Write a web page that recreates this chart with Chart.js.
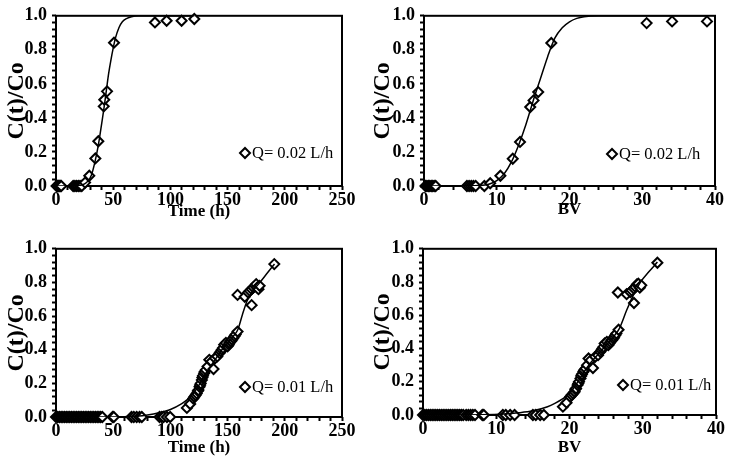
<!DOCTYPE html>
<html>
<head>
<meta charset="utf-8">
<script src="https://cdn.jsdelivr.net/npm/chart.js@4.4.1/dist/chart.umd.min.js"></script>
<style>
  html, body { margin: 0; padding: 0; background: #fff; }
  #wrap { position: relative; width: 733px; height: 466px; }
  canvas { position: absolute; }
</style>
</head>
<body>
<div id="wrap">
  <canvas id="c1" width="366" height="233" style="left:0;top:0"></canvas>
  <canvas id="c2" width="367" height="233" style="left:366px;top:0"></canvas>
  <canvas id="c3" width="366" height="233" style="left:0;top:233px"></canvas>
  <canvas id="c4" width="367" height="233" style="left:366px;top:233px"></canvas>
</div>
<script>
// ================= DATA =================
// Q = 0.02 L/h vs time
const timeA = [0.5, 1.2, 1.8, 2.5, 3.2, 3.9, 4.6, 15, 16.5, 18, 19.5, 21, 22.5, 25.4,
               29.1, 34.4, 37, 41.7, 42.2, 44.6, 50.7, 86.5, 96.7, 109.8, 120.9];
const concTimeA = [0, 0, 0, 0, 0, 0, 0, 0, 0, 0, 0, 0, 0, 0.02,
                   0.06, 0.162, 0.263, 0.468, 0.507, 0.556, 0.842, 0.961, 0.971, 0.971, 0.981];
const fitTimeA = [0, 20, 25, 28, 31, 34, 37, 40, 42, 44, 46, 48, 50, 52, 55, 58, 62, 66, 72, 121];
const fitTimeValsA = [0, 0.003, 0.013, 0.03, 0.065, 0.14, 0.24, 0.37, 0.46, 0.56, 0.66, 0.74,
                      0.81, 0.87, 0.93, 0.965, 0.985, 0.995, 1, 1];

// Q = 0.02 L/h vs BV
const bvA = [0.2, 0.4, 0.6, 0.8, 1.0, 1.2, 1.4, 1.6, 5.9, 6.2, 6.5, 6.8, 7.1,
             8.3, 9.1, 10.5, 12.2, 13.2, 14.6, 15.06, 15.7, 17.5, 30.6, 34.1, 38.9];
const concBvA = [0, 0, 0, 0, 0, 0, 0, 0, 0, 0, 0, 0, 0,
                 0, 0.016, 0.06, 0.16, 0.259, 0.464, 0.503, 0.552, 0.84, 0.957, 0.967, 0.967];
const fitBvA = [0, 7, 8, 9, 10, 11, 12, 13, 14, 15, 16, 17, 18, 19, 20, 21, 22, 24, 39];
const fitBvValsA = [0, 0.001, 0.004, 0.012, 0.032, 0.07, 0.14, 0.24, 0.36, 0.5, 0.63, 0.76,
                    0.87, 0.93, 0.965, 0.985, 0.995, 1, 1];

// Q = 0.01 L/h vs time
const timeB = [0, 1.5, 3, 4.5, 6, 7.5, 9, 10.5, 12, 13.5, 15, 16.5, 18, 19.5, 21, 22.5, 24, 25.5,
               27, 28.5, 30, 31.5, 33, 34.5, 36, 37.5, 39, 40.5, 49.5, 50.5, 66, 68, 70.5, 73, 75,
               90.5, 92.5, 94, 97, 99.8,
               114.4, 117.3, 120, 121, 122, 123, 124, 124.5, 125.5, 126, 126.5, 127.5, 128, 128.5,
               129.5, 130, 131, 132.5, 134, 136, 137.7, 139, 141, 143, 144, 145, 146, 147, 148.5,
               150, 151, 151.5, 152.5, 153, 154, 155, 156, 157, 158.7,
               158.7, 165, 168, 169.5, 171, 171, 172.5, 174, 175, 176, 177, 178, 190.8];
const concTimeB = [0, 0, 0, 0, 0, 0, 0, 0, 0, 0, 0, 0, 0, 0, 0, 0, 0, 0,
                   0, 0, 0, 0, 0, 0, 0, 0, 0, 0, 0, 0, 0, 0, 0, 0, 0,
                   0, 0, 0, 0, 0,
                   0.054, 0.077, 0.11, 0.12, 0.13, 0.14, 0.155, 0.16, 0.18, 0.19, 0.2, 0.22, 0.235, 0.245,
                   0.26, 0.27, 0.28, 0.3, 0.34, 0.33, 0.285, 0.35, 0.36, 0.38, 0.39, 0.4, 0.41, 0.43, 0.44,
                   0.42, 0.43, 0.44, 0.45, 0.45, 0.46, 0.47, 0.48, 0.49, 0.508,
                   0.726, 0.715, 0.74, 0.75, 0.665, 0.76, 0.77, 0.78, 0.79, 0.77, 0.76, 0.78, 0.909];
const fitTimeB = [0, 50, 60, 70, 80, 90, 100, 110, 115, 120, 125, 130, 135, 140, 145, 150, 155,
                  159, 163, 167, 172, 177, 184, 191];
const fitTimeValsB = [0, 0, 0.002, 0.005, 0.012, 0.025, 0.045, 0.08, 0.105, 0.14, 0.19, 0.25, 0.3,
                      0.35, 0.4, 0.44, 0.48, 0.52, 0.61, 0.69, 0.75, 0.79, 0.85, 0.91];

// Q = 0.01 L/h vs BV
const bvB = [0, 0.25, 0.5, 0.75, 1, 1.25, 1.5, 1.75, 2, 2.25, 2.5, 2.75, 3, 3.25, 3.5, 3.75, 4,
             4.25, 4.5, 4.75, 5, 5.25, 5.5, 5.9, 6.2, 6.5, 6.8, 7.1, 8.1, 8.3, 10.9, 11.3, 11.9, 12.5,
             15.0, 15.4, 16.0, 16.5,
             19.1, 19.6, 20.1, 20.3, 20.5, 20.7, 20.8, 20.9, 21.1, 21.2, 21.3, 21.5, 21.6, 21.7,
             21.9, 22.0, 22.2, 22.4, 22.6, 22.9, 23.2, 23.5, 23.9, 24.2, 24.35, 24.5, 24.65, 24.8,
             25.1, 25.3, 25.45, 25.6, 25.75, 25.8, 26.0, 26.1, 26.25, 26.4, 26.7,
             26.6, 27.8, 28.3, 28.5, 28.8, 28.8, 29.0, 29.2, 29.4, 29.6, 29.8, 32.0];
const concBvB = [0, 0, 0, 0, 0, 0, 0, 0, 0, 0, 0, 0, 0, 0, 0, 0, 0,
                 0, 0, 0, 0, 0, 0, 0, 0, 0, 0, 0, 0, 0, 0, 0, 0, 0,
                 0, 0, 0, 0,
                 0.05, 0.074, 0.11, 0.12, 0.13, 0.14, 0.155, 0.16, 0.18, 0.19, 0.2, 0.22, 0.235, 0.245,
                 0.26, 0.27, 0.28, 0.3, 0.34, 0.33, 0.283, 0.35, 0.36, 0.38, 0.39, 0.4, 0.41, 0.43,
                 0.44, 0.42, 0.43, 0.44, 0.45, 0.45, 0.46, 0.47, 0.48, 0.49, 0.513,
                 0.737, 0.727, 0.74, 0.75, 0.674, 0.76, 0.77, 0.786, 0.79, 0.766, 0.78, 0.916];
const fitBvB = [0, 8, 11, 13, 15, 17, 18, 19, 20, 21, 22, 23, 24, 25, 26, 26.8, 27.8, 28.7, 29.7,
                30.8, 32];
const fitBvValsB = [0, 0.002, 0.006, 0.013, 0.025, 0.05, 0.07, 0.095, 0.13, 0.19, 0.26, 0.32, 0.37,
                    0.42, 0.47, 0.52, 0.63, 0.72, 0.8, 0.86, 0.92];

const yTicks = [0, 0.2, 0.4, 0.6, 0.8, 1.0];

// ================= PLUGINS =================
// black frame round the plot area
const frame = {
    id: "frame",
    beforeDatasetsDraw(chart) {
        const { ctx, chartArea: a } = chart;
        ctx.save();
        ctx.strokeStyle = "#000";
        ctx.lineWidth = 2;
        ctx.strokeRect(a.left, a.top, a.right - a.left, a.bottom - a.top);
        ctx.restore();
    }
};

// legend item sitting inside the plot, lower right
const cornerLegend = {
    id: "cornerLegend",
    afterDatasetsDraw(chart, args, opts) {
        const { ctx, chartArea: a } = chart;
        const ds = chart.data.datasets[1];
        const x = a.right - opts.dx;
        const y = a.bottom - opts.dy;
        ctx.save();
        ctx.strokeStyle = "#000";
        ctx.fillStyle = "#fff";
        ctx.lineWidth = 2;
        Chart.helpers.drawPoint(ctx, { pointStyle: "rectRot", radius: 5, borderWidth: 2, rotation: 0 }, x, y);
        ctx.fillStyle = "#000";
        ctx.font = '16.5px "Liberation Serif"';
        ctx.textBaseline = "middle";
        ctx.textAlign = "left";
        ctx.fillText(ds.label, x + 7, y + 1);
        ctx.restore();
    }
};

// ================= PANEL BUILDER =================
function makePanel(id, p) {
    const pts = p.xs.map((x, i) => ({ x, y: p.ys[i] }));
    const fit = p.fx.map((x, i) => ({ x, y: p.fy[i] }));
    const tickFont = { family: "Liberation Serif", size: 18, weight: "bold" };
    const xTitleFont = { family: "Liberation Serif", size: 17, weight: "bold" };
    const yTitleFont = { family: "Liberation Serif", size: 24, weight: "bold" };

    return new Chart(document.getElementById(id), {
        type: "scatter",
        data: {
            datasets: [
                {
                    type: "line", label: "fit", data: fit, order: 0,
                    borderColor: "#000", borderWidth: 1.5, pointRadius: 0,
                    cubicInterpolationMode: "monotone", fill: false
                },
                {
                    label: p.label, data: pts, order: 1, clip: false,
                    pointStyle: "rectRot", pointRadius: 5, pointBorderWidth: 2,
                    pointBorderColor: "#000", pointBackgroundColor: "#fff"
                }
            ]
        },
        options: {
            responsive: false,
            animation: false,
            devicePixelRatio: 1,
            layout: { padding: { top: p.padTop, right: p.padRight, left: 0, bottom: 0 } },
            plugins: {
                legend: { display: false },
                tooltip: { enabled: false },
                cornerLegend: { dx: p.legDx, dy: p.legDy }
            },
            scales: {
                x: {
                    type: "linear", min: 0, max: p.xMax,
                    afterFit: s => { s.height = p.xH; },
                    border: { display: false },
                    grid: { drawOnChartArea: false, drawTicks: true, tickLength: 4, tickWidth: 2, tickColor: "#000" },
                    ticks: {
                        stepSize: p.xMinor, autoSkip: false, maxRotation: 0, padding: 0,
                        color: "#000", font: tickFont,
                        callback: v => (Math.abs(v / p.xMajor - Math.round(v / p.xMajor)) < 1e-6 ? v : "")
                    },
                    title: { display: true, text: p.xTitle, color: "#000", font: xTitleFont,
                             padding: { top: 0, bottom: p.xTitlePad } }
                },
                y: {
                    type: "linear", min: 0, max: 1,
                    afterFit: s => { s.width = p.yW; },
                    border: { display: false },
                    grid: { drawOnChartArea: false, drawTicks: true, tickLength: 4, tickWidth: 2, tickColor: "#000" },
                    ticks: {
                        stepSize: 0.04, autoSkip: false, padding: 5, color: "#000", font: tickFont,
                        callback: v => {
                            const hit = yTicks.find(t => Math.abs(t - v) < 1e-6);
                            return hit === undefined ? "" : hit.toFixed(1);
                        }
                    },
                    title: { display: true, text: "C(t)/Co", color: "#000", font: yTitleFont,
                             padding: { top: 2, bottom: 0 } }
                }
            }
        },
        plugins: [frame, cornerLegend]
    });
}

// ================= BUILD =================
makePanel("c1", {
    xs: timeA, ys: concTimeA, fx: fitTimeA, fy: fitTimeValsA, label: "Q= 0.02 L/h",
    xMax: 250, xMajor: 50, xMinor: 10, xTitle: "Time (h)",
    padTop: 15, padRight: 24, yW: 56, xH: 47, xTitlePad: 11, legDx: 97, legDy: 33
});
makePanel("c2", {
    xs: bvA, ys: concBvA, fx: fitBvA, fy: fitBvValsA, label: "Q= 0.02 L/h",
    xMax: 40, xMajor: 10, xMinor: 2, xTitle: "BV",
    padTop: 15, padRight: 18, yW: 58, xH: 47, xTitlePad: 13, legDx: 103, legDy: 32
});
makePanel("c3", {
    xs: timeB, ys: concTimeB, fx: fitTimeB, fy: fitTimeValsB, label: "Q= 0.01 L/h",
    xMax: 250, xMajor: 50, xMinor: 10, xTitle: "Time (h)",
    padTop: 10, padRight: 24, yW: 56, xH: 49, xTitlePad: 8, legDx: 97, legDy: 30
});
makePanel("c4", {
    xs: bvB, ys: concBvB, fx: fitBvB, fy: fitBvValsB, label: "Q= 0.01 L/h",
    xMax: 40, xMajor: 10, xMinor: 2, xTitle: "BV",
    padTop: 10, padRight: 17, yW: 57, xH: 51, xTitlePad: 8, legDx: 93, legDy: 30
});
</script>
</body>
</html>
